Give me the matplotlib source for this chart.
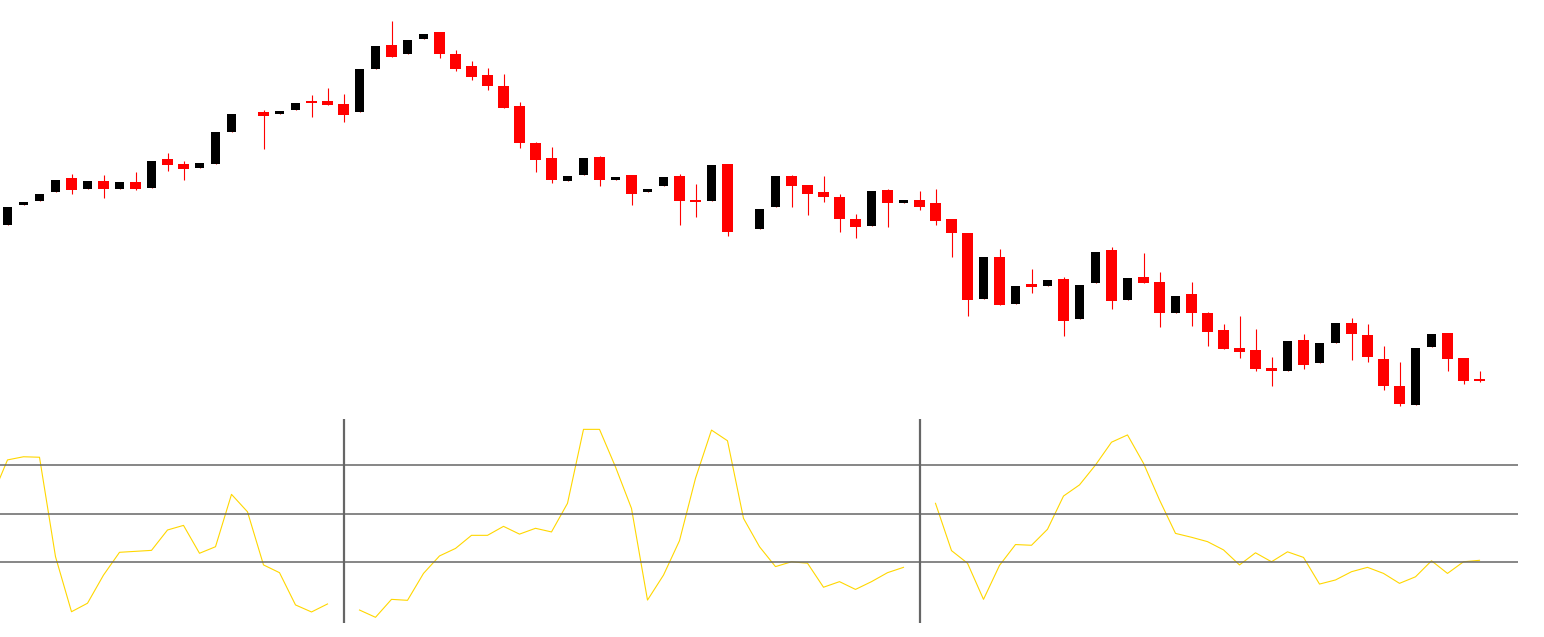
import numpy as np
import matplotlib
matplotlib.use('Agg')
import matplotlib.pyplot as plt

nan = np.nan

# OHLC prices, one bar per session (nan = no trading)
opens = [97.5, 99.5, 99.9, 100.8, 102.2, 101.1, 101.9, 101.1, 101.8, 101.2,
         104.1, 103.6, 103.2, 103.6, 106.8, nan, 108.8, 108.6, 109.0, 109.9,
         109.9, 109.6, 108.8, 113.1, 115.5, 114.6, 116.1, 116.8, 114.6, 113.4,
         112.5, 111.4, 109.4, 105.7, 104.2, 101.9, 102.5, 104.3, 102.0, 102.5,
         100.8, 101.4, 102.4, 100.0, 99.9, 103.6, nan, 97.1, 99.3, 102.4,
         101.5, 100.8, 100.3, 98.1, 97.4, 101.0, 99.7, 100.0, 99.7, 98.1,
         96.7, 90.1, 94.3, 89.6, 91.6, 91.4, 92.1, 88.1, 91.7, 95.0,
         90.0, 92.3, 91.8, 88.7, 90.6, 88.7, 87.0, 85.2, 85.0, 83.2,
         82.9, 86.0, 83.7, 85.7, 87.7, 86.5, 84.1, 81.4, 79.5, 85.3,
         86.7, 84.2, 82.1]
highs = [99.3, 99.8, 100.6, 102.0, 102.6, 101.9, 102.5, 101.8, 102.8, 103.9,
         104.7, 103.9, 103.7, 106.8, 108.6, nan, 109.0, 108.9, 109.7, 110.5,
         111.2, 110.6, 113.1, 115.4, 117.9, 116.0, 116.6, 116.8, 115.0, 113.9,
         113.2, 112.6, 109.8, 105.8, 105.3, 102.4, 104.2, 104.4, 102.3, 102.5,
         101.1, 102.3, 102.6, 101.6, 103.5, 103.6, nan, 99.1, 102.4, 102.5,
         101.5, 102.4, 100.6, 98.6, 100.9, 101.1, 100.0, 100.9, 101.1, 98.1,
         96.7, 94.3, 95.1, 91.4, 93.1, 92.0, 92.3, 91.5, 94.8, 95.3,
         92.2, 94.7, 92.8, 90.4, 91.8, 88.8, 87.6, 88.4, 87.1, 84.3,
         85.9, 86.6, 85.7, 87.7, 88.2, 87.6, 85.4, 83.8, 85.2, 86.6,
         86.7, 84.2, 82.9]
lows = [97.5, 99.5, 99.9, 100.8, 100.6, 101.1, 100.2, 101.1, 101.0, 101.2,
        102.9, 102.0, 103.2, 103.6, 106.8, nan, 105.1, 108.6, 109.0, 108.3,
        109.5, 107.8, 108.8, 113.1, 114.3, 114.6, 116.1, 114.2, 112.9, 112.0,
        111.0, 109.2, 105.2, 102.8, 101.7, 101.9, 102.5, 101.4, 102.0, 99.5,
        100.8, 101.4, 97.5, 98.3, 99.9, 96.4, nan, 97.1, 99.3, 99.3,
        98.5, 99.8, 96.8, 96.2, 97.4, 97.3, 99.7, 99.0, 97.5, 94.3,
        88.4, 90.1, 89.5, 89.6, 90.7, 91.4, 86.4, 88.1, 91.7, 89.1,
        90.0, 91.7, 87.3, 88.7, 87.4, 85.4, 85.1, 84.2, 82.9, 81.4,
        82.9, 83.1, 83.7, 85.7, 84.0, 83.8, 81.0, 79.4, 79.5, 85.3,
        82.9, 81.6, 81.8]
closes = [99.3, 99.8, 100.6, 102.0, 101.0, 101.9, 101.1, 101.8, 101.1, 103.9,
          103.5, 103.1, 103.7, 106.8, 108.6, nan, 108.4, 108.9, 109.7, 109.7,
          109.5, 108.5, 113.1, 115.4, 114.3, 116.0, 116.6, 114.6, 113.1, 112.3,
          111.4, 109.2, 105.7, 104.0, 102.0, 102.4, 104.2, 102.0, 102.3, 100.6,
          101.1, 102.3, 99.9, 99.8, 103.5, 96.8, nan, 99.1, 102.4, 101.4,
          100.6, 100.3, 98.1, 97.3, 100.9, 99.7, 100.0, 99.3, 97.9, 96.7,
          90.0, 94.3, 89.5, 91.4, 91.3, 92.0, 87.9, 91.5, 94.8, 89.9,
          92.2, 91.7, 88.7, 90.4, 88.7, 86.8, 85.1, 84.8, 83.1, 82.9,
          85.9, 83.5, 85.7, 87.7, 86.6, 84.3, 81.4, 79.6, 85.2, 86.6,
          84.1, 81.9, 81.9]

# oscillator, starts one bar before the first candle
osc = [56.4, 72.1, 73.4, 73.2, 32.2, 9.5, 13.0, 24.6, 34.0, 34.4,
       34.8, 43.2, 45.1, 33.6, 36.3, 57.9, 50.7, 28.8, 25.6, 12.3,
       9.4, 12.7, nan, 10.2, 7.2, 14.6, 14.2, 25.3, 32.5, 35.6,
       41.0, 41.0, 44.7, 41.5, 43.9, 42.4, 54.2, 84.7, 84.7, 69.2,
       52.1, 14.3, 24.6, 38.8, 64.5, 84.4, 80.0, 48.0, 36.3, 28.1,
       30.1, 29.5, 19.6, 21.9, 18.7, 21.9, 25.6, 27.8, nan, 54.2,
       34.7, 29.5, 14.6, 28.6, 37.2, 36.9, 43.5, 57.2, 61.8, 70.0,
       79.4, 82.4, 70.7, 55.6, 41.8, 40.2, 38.4, 35.0, 28.8, 33.8,
       30.1, 34.2, 31.9, 20.9, 22.6, 26.0, 27.8, 25.3, 21.2, 23.9,
       30.5, 25.3, 30.1, 30.7]
levels = [70, 50, 30]
breaks = [21, 57]

o = np.array(opens)
h = np.array(highs)
l = np.array(lows)
c = np.array(closes)
x = np.arange(len(o))
up = c >= o
down = c < o

fig = plt.figure(figsize=(15.44, 6.37), dpi=100)
fig.patch.set_facecolor('white')

W = 1544.
H = 637.
ax = fig.add_axes([0, 1 - 410 / H, 1518 / W, 410 / H])
ax2 = fig.add_axes([0, 14 / H, 1518 / W, 204 / H])

# wicks first, bodies over them
ax.vlines(x, l, h, color='red', linewidth=0.8, zorder=1)
ax.bar(x[up], (c - o)[up], bottom=o[up], width=0.5625, color='black',
       linewidth=0, zorder=2)
ax.bar(x[down], (o - c)[down], bottom=c[down], width=0.6875, color='red',
       linewidth=0, zorder=2)
ax.set_ylim(79, 120)

ax2.plot(np.arange(-1, len(osc) - 1), osc, color='#FFD700', linewidth=0.8)
for lv in levels:
    ax2.axhline(lv, color='#666666', linewidth=1.1)
for b in breaks:
    ax2.axvline(b, color='#666666', linewidth=1.6)
ax2.set_ylim(4.85, 88.97)

for a in (ax, ax2):
    a.set_xlim(-0.46875, 94.40625)
    a.set_xticks([])
    a.set_yticks([])
    for s in a.spines.values():
        s.set_visible(False)
    a.set_facecolor('white')

plt.savefig('out.png', dpi=100)
